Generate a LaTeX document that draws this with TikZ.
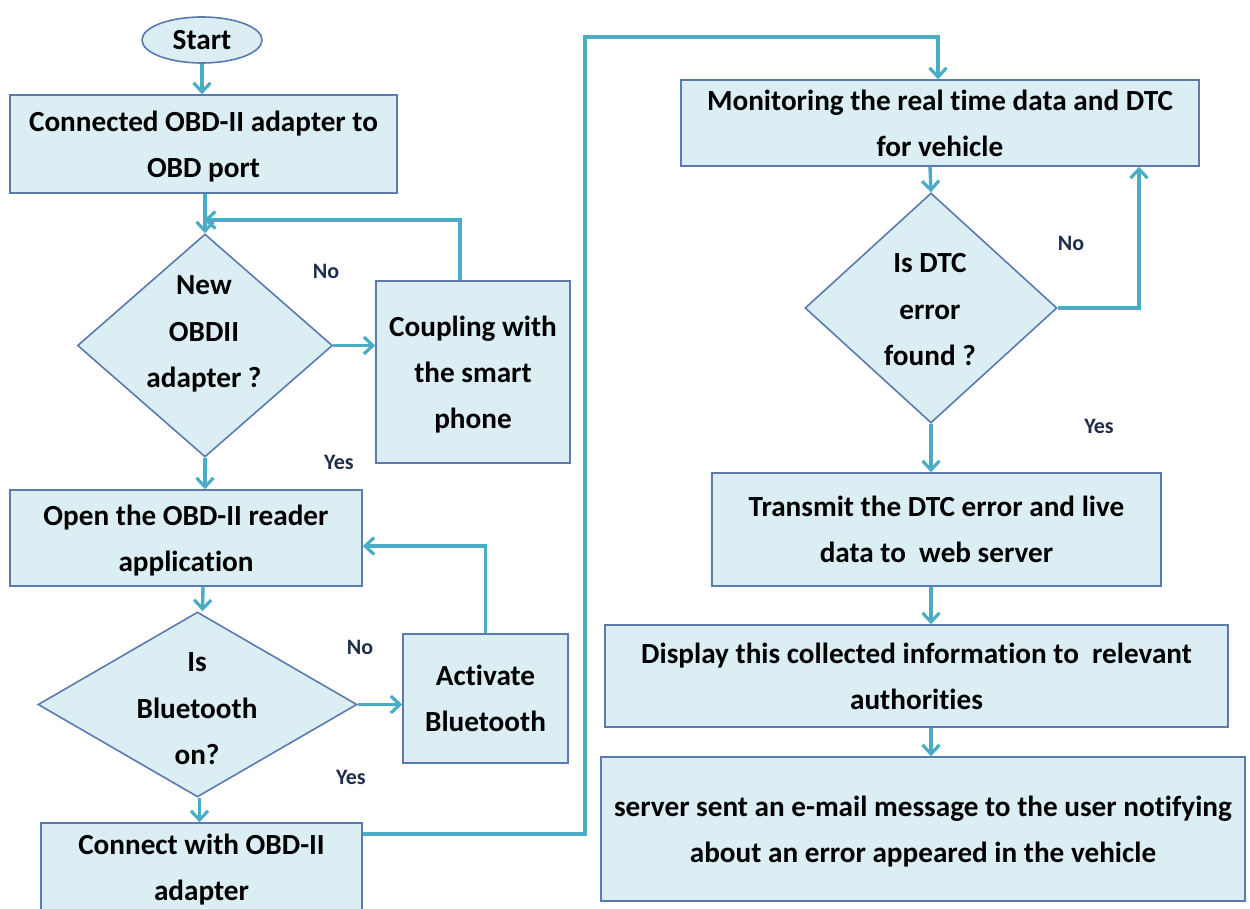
\documentclass[tikz,border=0pt]{standalone}
\usepackage{fontspec}
\setmainfont{Carlito}[Ligatures={NoCommon,NoContextual},Contextuals=NoAlternate]
\usetikzlibrary{shapes.geometric,arrows.meta}
\definecolor{boxfill}{HTML}{DBEEF4}
\definecolor{boxline}{HTML}{5B7BAE}
\definecolor{arrcol}{HTML}{4BACC6}
\definecolor{lblcol}{HTML}{1F2D4D}
\tikzset{
  box/.style={draw=boxline, fill=boxfill, line width=1.6pt, rectangle, inner sep=0pt, align=center,
    text depth=0pt, font=\fontsize{29.2}{46}\selectfont\bfseries},
  dia/.style={draw=boxline, fill=boxfill, line width=1.6pt, diamond, inner sep=0pt},
  txt/.style={align=center, inner sep=0pt, font=\fontsize{29.2}{46.5}\selectfont\bfseries},
  lbl/.style={inner sep=0pt, text=lblcol, font=\fontsize{22}{24}\selectfont\bfseries},
  arr/.style={draw=arrcol, line width=3.4pt, -{Straight Barb[length=9pt,width=17pt,line width=3.2pt]}},
}
\begin{document}
\begin{tikzpicture}[x=1pt,y=-1pt]
\useasboundingbox (0,0) rectangle (1250,909);
% Left column
\node[draw=boxline, fill=boxfill, line width=1.6pt, ellipse, minimum width=120pt, minimum height=46pt, inner sep=0pt,
  font=\fontsize{29.2}{30}\selectfont\bfseries] (start) at (202,40) {Start};
\node[box, minimum width=387pt, minimum height=98pt] (b1) at (203.5,144) {Connected OBD-II adapter to\\OBD port};
\node[dia, minimum width=255pt, minimum height=223pt] (d1) at (205,345.5) {};
\node[txt] (d1t) at (204,334) {New\\OBDII\\adapter ?};
\node[box, minimum width=194pt, minimum height=182pt] (cp) at (473,372) {Coupling with\\the smart\\phone};
\node[lbl] (no1) at (326,271) {No};
\node[lbl] (yes1) at (339,462) {Yes};
\node[box, minimum width=352pt, minimum height=96pt] (b2) at (186,538) {Open the OBD-II reader\\application};
\node[dia, minimum width=319pt, minimum height=185pt] (d2) at (197.5,704.5) {};
\node[txt] (d2t) at (197,709) {Is\\Bluetooth\\on?};
\node[box, minimum width=165pt, minimum height=129pt] (ab) at (485.5,698.5) {Activate\\Bluetooth};
\node[lbl] (no2) at (360,647) {No};
\node[lbl] (yes2) at (351,777) {Yes};
\node[box, minimum width=321pt, minimum height=88pt] (b3) at (201.5,867) {Connect with OBD-II\\adapter};
% Right column
\node[box, minimum width=518pt, minimum height=86pt] (b4) at (940,123) {Monitoring the real t\kern0pt ime data and DTC\\for vehicle};
\node[dia, minimum width=252pt, minimum height=230pt] (d3) at (931,308) {};
\node[txt] (d3t) at (930,310) {Is DTC\\error\\found ?};
\node[lbl] (no3) at (1071,243) {No};
\node[lbl] (yes3) at (1099,426) {Yes};
\node[box, minimum width=449pt, minimum height=113pt] (b5) at (936.5,529.5) {Transmit the DTC error and live\\data to\ \ web server};
\node[box, minimum width=623pt, minimum height=102pt] (b6) at (916.5,676) {Display this collected informat\kern0pt ion to\ \ relevant\\authorit\kern0pt ies};
\node[box, minimum width=644pt, minimum height=144pt] (b7) at (923,829) {server sent an e-mail message to the user not\kern0pt ifying\\about an error appeared in the vehicle};
% junction coordinates
\coordinate (j1) at (204,220);
\coordinate (j2) at (585,37);
% Connectors
\draw[arr] (start.south) -- (b1.north -| start.south);
\draw[arr] (b1.south -| d1.north) -- (d1.north);
\draw[arr] ([xshift=-13pt]cp.north) |- (j1);
\draw[arr] (d1.east) -- (d1.east -| cp.west);
\draw[arr] (d1.south) -- (d1.south |- b2.north);
\draw[arr] ([xshift=17pt]b2.south) -- ([xshift=5pt]d2.north);
\draw[arr] (ab.north) |- ([yshift=-8pt]b2.east);
\draw[arr] (d2.east) -- (d2.east -| ab.west);
\draw[arr] ([xshift=2pt]d2.south) -- ([xshift=2pt]d2.south |- b3.north);
\draw[arr] ([yshift=33pt]b3.east) -| (j2) -| ([xshift=-2pt]b4.north);
\draw[arr] ([xshift=-10pt]b4.south) -- (d3.north);
\draw[arr] (d3.east) -| ([xshift=199pt]b4.south);
\draw[arr] (d3.south) -- (d3.south |- b5.north);
\draw[arr] (d3.south |- b5.south) -- (d3.south |- b6.north);
\draw[arr] (d3.south |- b6.south) -- (d3.south |- b7.north);
\end{tikzpicture}
\end{document}
